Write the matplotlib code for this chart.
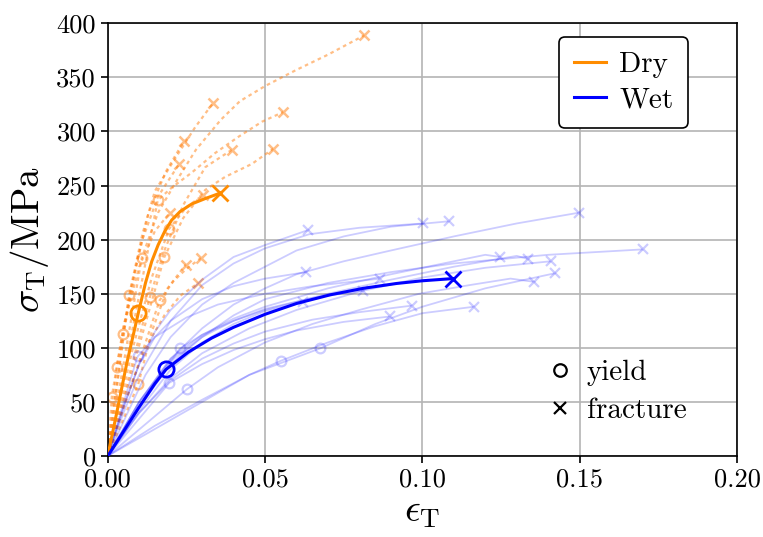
import matplotlib
matplotlib.use("Agg")
import matplotlib.pyplot as plt
from matplotlib.lines import Line2D

plt.rcParams["font.family"] = "serif"
plt.rcParams["font.serif"] = ["cmr10"]
plt.rcParams["mathtext.fontset"] = "cm"
plt.rcParams["axes.formatter.use_mathtext"] = True

# ---- representative curves -------------------------------------------------
dry_eps = [0, 0.003, 0.006, 0.0097, 0.012, 0.014, 0.016, 0.018, 0.0203, 0.023, 0.0267, 0.031, 0.0357]
dry_sig = [0, 42, 85, 132, 160, 180, 195, 207, 218, 226, 233, 238, 243]
dry_yield = (0.0097, 132)
dry_fracture = (0.0357, 243)

wet_eps = [0, 0.0097, 0.0150, 0.0185, 0.0256, 0.0330, 0.0400, 0.0500, 0.0600, 0.0707,
           0.0812, 0.0918, 0.1000, 0.1096]
wet_sig = [0, 44, 67, 80, 96, 109, 119, 131, 141, 149, 155, 159.5, 162, 164]
wet_yield = (0.0185, 80)
wet_fracture = (0.1096, 164)

# ---- individual dry specimens (strain, stress, yield index) ----------------
dry_samples = [
    ([0, 0.0108, 0.016, 0.022, 0.028, 0.036, 0.042, 0.050, 0.060, 0.070, 0.0816],
     [0, 183, 225, 255, 283, 311, 328, 342, 357, 371, 389], 1),
    ([0, 0.0068, 0.011, 0.015, 0.0214, 0.0278, 0.0334],
     [0, 149, 205, 245, 275, 304, 326], 1),
    ([0, 0.0159, 0.0203, 0.0267, 0.0341, 0.0415, 0.049, 0.0558],
     [0, 236.5, 248, 262, 280, 295, 309, 318], 1),
    ([0, 0.005, 0.009, 0.013, 0.0185, 0.0242],
     [0, 113, 175, 225, 263, 291], 1),
    ([0, 0.0134, 0.018, 0.024, 0.031, 0.0394],
     [0, 147, 190, 232, 267, 283], 1),
    ([0, 0.018, 0.024, 0.031, 0.0373, 0.0458, 0.0526],
     [0, 184, 220, 246, 258, 270, 284], 1),
    ([0, 0.0029, 0.007, 0.011, 0.016, 0.0227],
     [0, 82.5, 150, 200, 240, 270], 1),
    ([0, 0.008, 0.014, 0.0195, 0.025, 0.0302],
     [0, 100, 165, 210, 230, 241], 3),
    ([0, 0.0013, 0.005, 0.010, 0.015, 0.0198],
     [0, 55, 120, 175, 208, 225], 1),
    ([0, 0.0165, 0.021, 0.025, 0.0296],
     [0, 144, 162, 173, 183], 1),
    ([0, 0.0097, 0.014, 0.019, 0.0248],
     [0, 66.5, 115, 155, 177], 1),
    ([0, 0.006, 0.012, 0.018, 0.023, 0.0288],
     [0, 55, 100, 130, 148, 160], None),
]

# ---- individual wet specimens ---------------------------------------------
wet_samples = [
    ([0, 0.005, 0.010, 0.015, 0.020, 0.030, 0.040, 0.050, 0.0638],
     [0, 45, 85, 115, 135, 163, 184, 195, 209], None),
    ([0, 0.005, 0.010, 0.020, 0.030, 0.040, 0.050, 0.064, 0.080, 0.1003],
     [0, 40, 75, 125, 158, 178, 192, 205, 211, 215], None),
    ([0, 0.006, 0.012, 0.020, 0.030, 0.040, 0.050, 0.060, 0.075, 0.090, 0.1085],
     [0, 38, 75, 110, 140, 160, 175, 190, 203, 212, 217], None),
    ([0, 0.010, 0.020, 0.030, 0.040, 0.050, 0.060, 0.075, 0.090, 0.110, 0.130, 0.1499],
     [0, 50, 90, 118, 140, 155, 168, 180, 190, 203, 215, 225], None),
    ([0, 0.010, 0.020, 0.030, 0.040, 0.050, 0.070, 0.090, 0.110, 0.140, 0.170],
     [0, 45, 85, 110, 130, 145, 160, 170, 178, 186, 191], None),
    ([0, 0.005, 0.010, 0.015, 0.020, 0.030, 0.040, 0.050, 0.063],
     [0, 45, 85, 110, 125, 145, 157, 164, 170], None),
    ([0, 0.008, 0.0095, 0.015, 0.025, 0.035, 0.050, 0.065, 0.0865],
     [0, 78, 92, 110, 128, 140, 150, 157, 164], 2),
    ([0, 0.010, 0.020, 0.030, 0.040, 0.050, 0.070, 0.090, 0.110, 0.120, 0.1247],
     [0, 50, 90, 112, 127, 138, 155, 168, 180, 186, 184], None),
    ([0, 0.010, 0.023, 0.030, 0.040, 0.050, 0.070, 0.090, 0.110, 0.130, 0.1337],
     [0, 45, 99.5, 112, 125, 135, 150, 163, 175, 185, 182], 2),
    ([0, 0.010, 0.020, 0.030, 0.045, 0.060, 0.080, 0.100, 0.120, 0.1408],
     [0, 40, 72, 95, 118, 135, 152, 165, 174, 180], None),
    ([0, 0.015, 0.030, 0.045, 0.055, 0.070, 0.085, 0.100, 0.1164],
     [0, 28, 52, 75, 88, 105, 120, 132, 138], 4),
    ([0, 0.015, 0.030, 0.045, 0.0675, 0.085, 0.100, 0.120, 0.1422],
     [0, 25, 50, 75, 99.5, 122, 138, 155, 169], 4),
    ([0, 0.0251, 0.035, 0.050, 0.065, 0.080, 0.099, 0.115, 0.128, 0.1356],
     [0, 61.6, 82, 105, 122, 135, 150, 158, 164, 161], 1),
    ([0, 0.010, 0.020, 0.030, 0.040, 0.050, 0.065, 0.080, 0.0966],
     [0, 40, 70, 90, 104, 115, 126, 133, 139], None),
    ([0, 0.0196, 0.030, 0.040, 0.050, 0.060, 0.075, 0.0897],
     [0, 67.7, 85, 98, 108, 116, 124, 129], 1),
    ([0, 0.010, 0.020, 0.030, 0.040, 0.050, 0.065, 0.0812],
     [0, 50, 88, 110, 125, 136, 146, 153], None),
    ([0, 0.010, 0.020, 0.030, 0.040, 0.050, 0.0622],
     [0, 42, 80, 105, 122, 134, 142], None),
]

x_ticks = [0.00, 0.05, 0.10, 0.15, 0.20]
y_ticks = [0, 50, 100, 150, 200, 250, 300, 350, 400]

DRY = "#ff8c00"
WET = "#0000ff"
DRY_FAINT = "#ff7f0e"

fig = plt.figure(figsize=(7.63, 5.37), dpi=100)
ax = fig.add_axes([0.1412, 0.1508, 0.8247, 0.8058])

for eps, sig, yi in dry_samples:
    ax.plot(eps, sig, ls=(0, (1.6, 1.6)), lw=1.6, color=DRY_FAINT, alpha=0.5, zorder=2)
    ax.plot(eps[-1], sig[-1], "x", ms=7, mew=1.8, color=DRY_FAINT, alpha=0.5, zorder=2)
    if yi is not None:
        ax.plot(eps[yi], sig[yi], "o", ms=7, mew=1.6, mfc="none", color=DRY_FAINT,
                alpha=0.5, zorder=2)

for eps, sig, yi in wet_samples:
    ax.plot(eps, sig, "-", lw=1.3, color=WET, alpha=0.2, zorder=3)
    ax.plot(eps[-1], sig[-1], "x", ms=7, mew=1.6, color=WET, alpha=0.2, zorder=3)
    if yi is not None:
        ax.plot(eps[yi], sig[yi], "o", ms=7, mew=1.6, mfc="none", color=WET,
                alpha=0.2, zorder=3)

ax.plot(dry_eps, dry_sig, "-", lw=2.2, color=DRY, zorder=5)
ax.plot(*dry_yield, "o", ms=11, mew=2, mfc="none", color=DRY, zorder=6)
ax.plot(*dry_fracture, "x", ms=12, mew=2, color=DRY, zorder=6)

ax.plot(wet_eps, wet_sig, "-", lw=2.2, color=WET, zorder=5)
ax.plot(*wet_yield, "o", ms=11, mew=2, mfc="none", color=WET, zorder=6)
ax.plot(*wet_fracture, "x", ms=12, mew=2, color=WET, zorder=6)

ax.set_xlim(0, 0.2)
ax.set_ylim(0, 400)
ax.set_xticks(x_ticks)
ax.set_yticks(y_ticks)
ax.set_xticklabels([f"{v:.2f}" for v in x_ticks])
ax.set_yticklabels([str(v) for v in y_ticks])
ax.tick_params(direction="out", length=5, width=1.2, labelsize=19)
ax.grid(True, color="#b4b4b4", lw=1.2)
ax.set_axisbelow(True)
for s in ax.spines.values():
    s.set_linewidth(1.2)

ax.set_xlabel(r"$\epsilon_\mathrm{T}$", fontsize=28, labelpad=2)
ax.set_ylabel(r"$\sigma_\mathrm{T}/\mathrm{MPa}$", fontsize=28, labelpad=4)

leg1 = ax.legend(
    handles=[Line2D([], [], color=DRY, lw=2.2, label="Dry"),
             Line2D([], [], color=WET, lw=2.2, label="Wet")],
    loc="upper right", bbox_to_anchor=(0.922, 0.968), borderaxespad=0,
    fontsize=21, frameon=True, fancybox=True, edgecolor="black", framealpha=1,
    handlelength=1.1, handletextpad=0.45, borderpad=0.5, labelspacing=0.3,
)
leg1.get_frame().set_linewidth(1.2)
ax.add_artist(leg1)

ax.legend(
    handles=[Line2D([], [], ls="none", marker="o", ms=9, mew=1.6, mfc="none",
                    color="black", label="yield"),
             Line2D([], [], ls="none", marker="x", ms=9, mew=1.6,
                    color="black", label="fracture")],
    loc="upper left", bbox_to_anchor=(0.68, 0.25), borderaxespad=0,
    fontsize=21, frameon=False, handlelength=0.9, handletextpad=0.45,
    labelspacing=0.4,
)

fig.savefig("out.png", dpi=100)
